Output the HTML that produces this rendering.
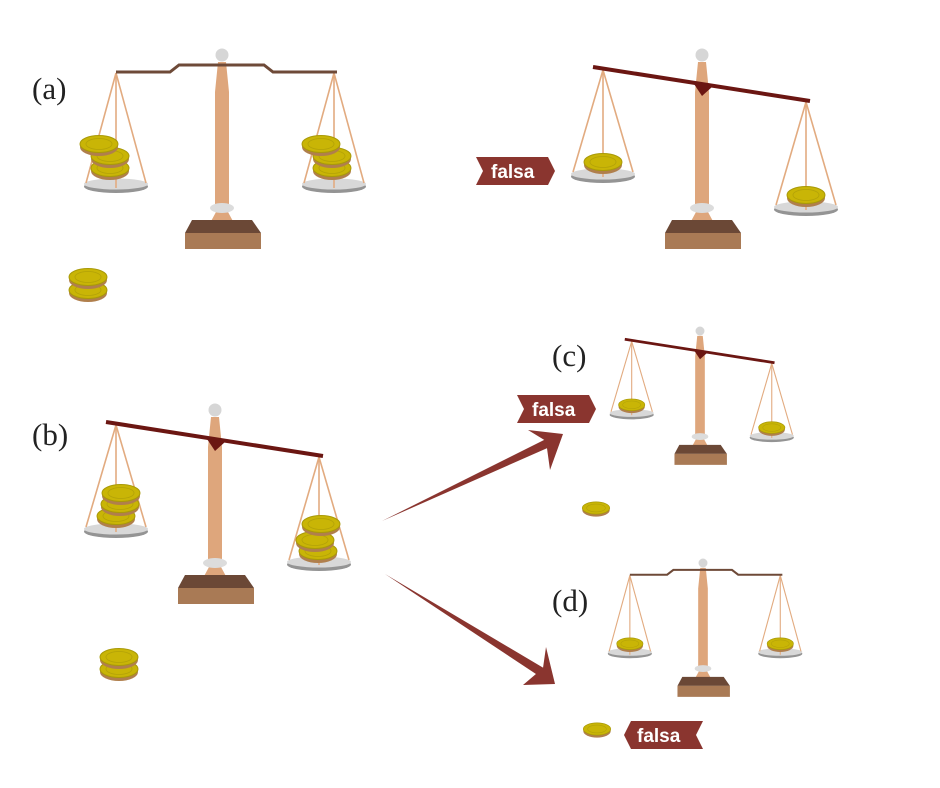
<!DOCTYPE html>
<html><head><meta charset="utf-8"><style>
html,body{margin:0;padding:0;background:#fff}
svg{display:block}
.lbl{font-family:"Liberation Serif",serif;font-size:31px;fill:#222}
.fl{font-family:"Liberation Sans",sans-serif;font-weight:bold;font-size:19px;fill:#fff}
</style></head><body>
<svg width="940" height="788" viewBox="0 0 940 788" xmlns="http://www.w3.org/2000/svg">
<defs>
<g id="coin">
  <ellipse cx="0" cy="3" rx="19" ry="9" fill="#b07f4c"/>
  <ellipse cx="0" cy="0" rx="19" ry="8.5" fill="#c9b506" stroke="#a99a08" stroke-width="1"/>
  <ellipse cx="0" cy="0" rx="13" ry="5.5" fill="none" stroke="#b3a208" stroke-width="0.8"/>
</g>
<g id="pillar">
  <path d="M698,62 L706,62 L709,92 L709,205 L695,205 L695,92 Z" fill="#dea67c"/>
  <path d="M696,212 L689,225 Q702,231 715,225 L708,212 Z" fill="#dea67c"/>
  <ellipse cx="702" cy="226" rx="13" ry="4" fill="#c18a5e"/>
  <ellipse cx="702" cy="208" rx="12" ry="5" fill="#dcdcdc"/>
  <circle cx="702" cy="55" r="6.5" fill="#d6d6d6"/>
  <path d="M672,220 L732,220 L741,233 L665,233 Z" fill="#6b4836"/>
  <rect x="665" y="233" width="76" height="16" fill="#a97a55"/>
</g>
<g id="panL">
  <ellipse cx="0" cy="2.5" rx="32" ry="6.5" fill="#949494"/>
  <ellipse cx="0" cy="0" rx="32" ry="5.5" fill="#d8d8d8"/>
</g>
<g id="tilt">
  <use href="#panL" transform="translate(603,174)"/>
  <use href="#panL" transform="translate(806,207)"/>
  <line x1="603" y1="70" x2="573" y2="172" stroke="#e2ab80" stroke-width="1.6"/>
  <line x1="603" y1="70" x2="603" y2="177" stroke="#e2ab80" stroke-width="1.6"/>
  <line x1="603" y1="70" x2="633" y2="172" stroke="#e2ab80" stroke-width="1.6"/>
  <line x1="806" y1="102" x2="776" y2="205" stroke="#e2ab80" stroke-width="1.6"/>
  <line x1="806" y1="102" x2="806" y2="210" stroke="#e2ab80" stroke-width="1.6"/>
  <line x1="806" y1="102" x2="836" y2="205" stroke="#e2ab80" stroke-width="1.6"/>
  <use href="#pillar"/>
  <line x1="593" y1="67" x2="810" y2="101" stroke="#6b1612" stroke-width="4"/>
  <path d="M694,84 L712,87 L702,96 Z" fill="#6b1612"/>
</g>
<g id="level">
  <use href="#panL" transform="translate(116,184)"/>
  <use href="#panL" transform="translate(334,184)"/>
  <line x1="116" y1="73" x2="86" y2="183" stroke="#e2ab80" stroke-width="1.6"/>
  <line x1="116" y1="73" x2="116" y2="188" stroke="#e2ab80" stroke-width="1.6"/>
  <line x1="116" y1="73" x2="146" y2="183" stroke="#e2ab80" stroke-width="1.6"/>
  <line x1="334" y1="73" x2="304" y2="183" stroke="#e2ab80" stroke-width="1.6"/>
  <line x1="334" y1="73" x2="334" y2="188" stroke="#e2ab80" stroke-width="1.6"/>
  <line x1="334" y1="73" x2="364" y2="183" stroke="#e2ab80" stroke-width="1.6"/>
  <use href="#pillar" transform="translate(-480,0)"/>
  <polyline points="116,72 170,72 179,65 264,65 273,72 337,72" fill="none" stroke="#6e4a38" stroke-width="3"/>
</g>
<g id="flag">
  <path d="M0,0 L72,0 L79,14 L72,28 L0,28 L7,14 Z" fill="#8a352f"/>
</g>
</defs>

<use href="#level"/>
<use href="#coin" transform="translate(110,168)"/>
<use href="#coin" transform="translate(110,156)"/>
<use href="#coin" transform="translate(99,144)"/>
<use href="#coin" transform="translate(332,168)"/>
<use href="#coin" transform="translate(332,156)"/>
<use href="#coin" transform="translate(321,144)"/>
<use href="#coin" transform="translate(88,290)"/>
<use href="#coin" transform="translate(88,277)"/>
<text class="lbl" x="32" y="99">(a)</text>

<use href="#tilt"/>
<use href="#coin" transform="translate(603,162)"/>
<use href="#coin" transform="translate(806,195)"/>
<use href="#flag" transform="translate(476,157)"/>
<text class="fl" x="491" y="178">falsa</text>

<g transform="translate(-487,355)">
  <use href="#tilt"/>
</g>
<use href="#coin" transform="translate(116,516)"/>
<use href="#coin" transform="translate(120,504)"/>
<use href="#coin" transform="translate(121,493)"/>
<use href="#coin" transform="translate(318,551)"/>
<use href="#coin" transform="translate(315,540)"/>
<use href="#coin" transform="translate(321,524)"/>
<use href="#coin" transform="translate(119,669)"/>
<use href="#coin" transform="translate(119,657)"/>
<text class="lbl" x="32" y="445">(b)</text>

<g transform="translate(700,331) scale(0.69) translate(-702,-55)">
  <use href="#tilt"/>
  <use href="#coin" transform="translate(603,162)"/>
  <use href="#coin" transform="translate(806,195)"/>
</g>
<use href="#coin" transform="translate(596,508) scale(0.72)"/>
<text class="lbl" x="552" y="366">(c)</text>
<use href="#flag" transform="translate(517,395)"/>
<text class="fl" x="532" y="416">falsa</text>

<g transform="translate(703,563) scale(0.69) translate(-222,-55)">
  <use href="#level"/>
  <use href="#coin" transform="translate(116,172)"/>
  <use href="#coin" transform="translate(334,172)"/>
</g>
<use href="#coin" transform="translate(597,729) scale(0.72)"/>
<text class="lbl" x="552" y="611">(d)</text>
<g transform="translate(703,749) rotate(180)"><use href="#flag"/></g>
<text class="fl" x="637" y="742">falsa</text>

<path d="M382,521 L548,438 L552,446 Z" fill="#8a352f"/>
<path d="M563,434 L528,430 L546,441 L550,470 Z" fill="#8a352f"/>
<path d="M385,574 L547,670 L542,678 Z" fill="#8a352f"/>
<path d="M555,684 L546,647 L543,668 L523,685 Z" fill="#8a352f"/>
</svg>
</body></html>
